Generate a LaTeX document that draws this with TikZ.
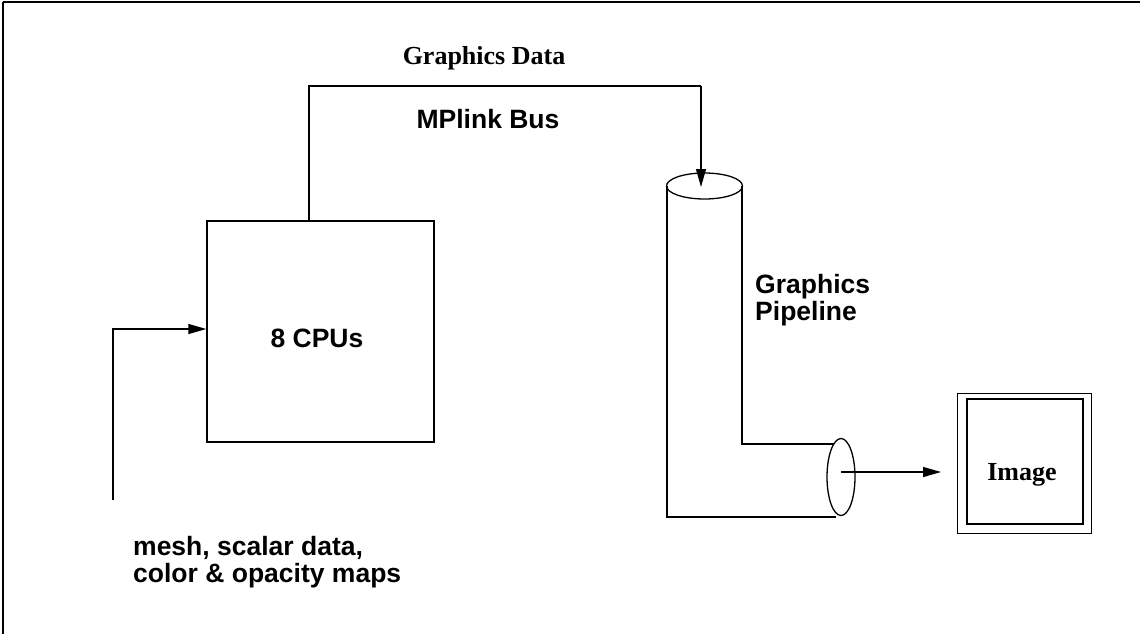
\documentclass[tikz,border=0pt]{standalone}
\usepackage{fontspec}
\setmainfont{Liberation Serif}
\setsansfont{Liberation Sans}
\usetikzlibrary{arrows.meta}
\tikzset{
  conn/.style={line width=1.3pt, line join=miter},
  arr/.style={conn, -{Triangle[length=18pt,width=10pt]}},
  sanslbl/.style={font=\sffamily\bfseries\fontsize{26.5}{27}\selectfont, inner sep=0pt, align=left},
  seriflbl/.style={font=\rmfamily\bfseries\fontsize{26}{28}\selectfont, inner sep=0pt},
  box/.style={draw, line width=1.4pt, inner sep=0pt},
}
\begin{document}
\begin{tikzpicture}[x=1pt,y=-1pt]
\useasboundingbox (0,0) rectangle (1140,634);
% frame
\draw[line width=2.5pt] (3,2) -- (1142,2);
\draw[line width=1.3pt] (3,2) -- (3,636);

% CPU box
\node[box, minimum width=227pt, minimum height=221pt] (cpu) at (320.5,331.5) {};
\node[sanslbl, anchor=base] (cpulbl) at (317,347) {8 CPUs};

% input
\coordinate (in0) at (113,500);
\coordinate (in1) at (113,329);
\draw[arr] (in0) -- (in1) -- (cpu.west |- in1);
\node[sanslbl, anchor=base west] (inlbl) at (133,582) {mesh, scalar data,\\color \& opacity maps};

% bus
\coordinate (bus0) at (309,221);
\coordinate (bus1) at (309,86);
\coordinate (bus2) at (701,86);
\coordinate (bus3) at (701,187);
\draw[conn] (bus0) -- (bus1) -- (bus2);
\draw[arr] (bus2) -- (bus3);
\node[seriflbl, anchor=base] (gdata) at (484,64) {Graphics Data};
\node[sanslbl, anchor=base] (mplink) at (488,128) {MPlink Bus};

% cylinder / pipeline
\coordinate (ctop) at (704.5,186);
\draw[conn] (ctop) ellipse [x radius=38pt, y radius=13pt];
\coordinate (cL) at (667,186);
\coordinate (cR) at (742,186);
\coordinate (bend) at (742,444);
\coordinate (uEnd) at (834,444);
\coordinate (lEnd) at (836,517);
\coordinate (lL) at (667,517);
\draw[conn] (cR) -- (bend) -- (uEnd);
\draw[conn] (cL) -- (lL) -- (lEnd);
\coordinate (cend) at (841,477);
\draw[conn] (cend) ellipse [x radius=14pt, y radius=38.5pt];
\node[sanslbl, anchor=base west] (gpipe) at (755,320) {Graphics\\Pipeline};

% image
\node[draw, line width=1pt, minimum width=134pt, minimum height=140pt, inner sep=0pt] (imgout) at (1024,463) {};
\node[box, line width=1.6pt, minimum width=116pt, minimum height=125pt] (imgin) at (1025,461.5) {};
\node[seriflbl, anchor=base] (imglbl) at (1022,480) {Image};

\coordinate (aout) at (841,472);
\coordinate (atip) at (941,472);
\draw[arr] (aout) -- (atip);
\end{tikzpicture}
\end{document}
